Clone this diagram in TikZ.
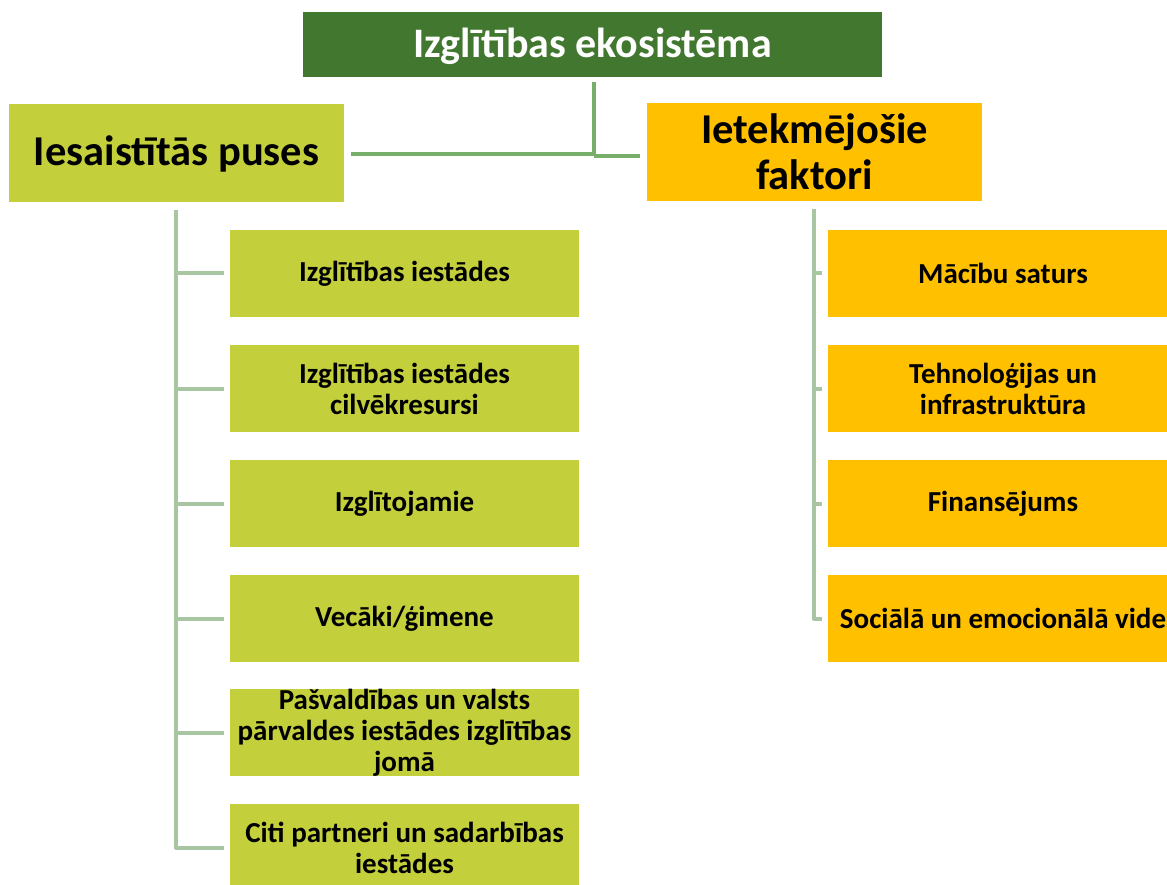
\documentclass[tikz,border=0pt]{standalone}
\usepackage{fontspec}
\setmainfont{Carlito}
\definecolor{topgreen}{HTML}{41772E}
\definecolor{lime}{HTML}{C3CF3B}
\definecolor{amber}{HTML}{FFC000}
\definecolor{linkgreen}{HTML}{78AE6A}
\definecolor{spine}{HTML}{A7C6A1}
\tikzset{
  topbox/.style={fill=topgreen,text=white,minimum width=579pt,minimum height=65pt,inner sep=0pt,text height=36pt,text depth=9pt,font=\fontsize{42}{46}\selectfont\bfseries},
  headbox/.style={minimum width=335pt,minimum height=98pt,inner sep=0pt,align=center,font=\fontsize{42.5}{46}\selectfont\bfseries},
  childbox/.style={minimum width=349pt,minimum height=87pt,inner sep=0pt,align=center,font=\fontsize{29}{31}\selectfont\bfseries},
  rchildbox/.style={childbox,minimum width=350pt},
  link/.style={draw=linkgreen,line width=4pt},
  spineline/.style={draw=spine,line width=4pt,line join=round}
}
\begin{document}
\begin{tikzpicture}[x=1pt,y=-1pt]
\useasboundingbox (0,0) rectangle (1167,885);
\clip (0,0) rectangle (1167,885);
\fill[white] (0,0) rectangle (1167,885);
\node[topbox] (top) at (592.5,44.5) {Izglītības ekosistēma};
\node[headbox,fill=lime] (left) at (176.5,153.5) {Iesaistītās puses};
\node[headbox,fill=amber] (right) at (814.5,152) {Ietekmējošie\\faktori};
% left children
\node[childbox,fill=lime] (l1) at (404.5,273.5) {Izglītības iestādes};
\node[childbox,fill=lime] (l2) at (404.5,388.5) {Izglītības iestādes\\cilvēkresursi};
\node[childbox,fill=lime] (l3) at (404.5,503.5) {Izglītojamie};
\node[childbox,fill=lime] (l4) at (404.5,618.5) {Vecāki/ģimene};
\node[childbox,fill=lime] (l5) at (404.5,732.5) {Pašvaldības un valsts\\pārvaldes iestādes izglītības\\jomā};
\node[childbox,fill=lime] (l6) at (404.5,847.5) {Citi partneri un sadarbības\\iestādes};
% right children
\node[rchildbox,fill=amber] (r1) at (1003,273.5) {Mācību saturs};
\node[rchildbox,fill=amber] (r2) at (1003,388.5) {Tehnoloģijas un\\infrastruktūra};
\node[rchildbox,fill=amber] (r3) at (1003,503.5) {Finansējums};
\node[rchildbox,fill=amber] (r4) at (1003,618.5) {Sociālā un emocionālā vide};
% top connectors
\coordinate (j) at (594,154);
\draw[link] ([yshift=-5pt]top.south -| j) -- (j);
\draw[link] ([xshift=7pt]left.east |- j) -- (j);
\draw[link] ([yshift=-2.5pt]j) -- ([xshift=-7pt,yshift=-2.5pt]right.west |- j);
% left spine
\coordinate (ls) at (176,210);
\draw[spineline] (ls) |- ([xshift=-6pt]l6.west);
\foreach \n in {l1,l2,l3,l4,l5}
  \draw[spine,line width=4pt] (ls |- \n.west) -- ([xshift=-6pt]\n.west);
% right spine
\coordinate (rs) at (814,209);
\draw[spineline] (rs) |- ([xshift=-6pt]r4.west);
\foreach \n in {r1,r2,r3}
  \draw[spine,line width=4pt] (rs |- \n.west) -- ([xshift=-6pt]\n.west);
\end{tikzpicture}
\end{document}
